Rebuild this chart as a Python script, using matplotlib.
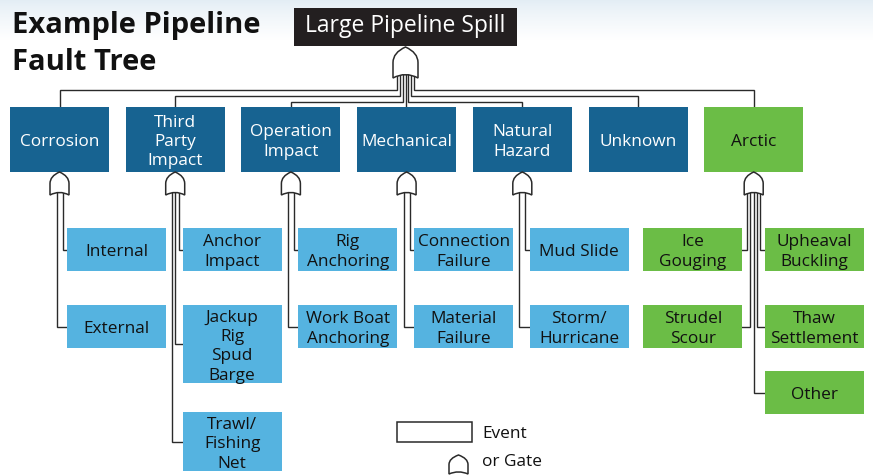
import matplotlib.pyplot as plt
import numpy as np
from matplotlib.patches import Rectangle, PathPatch
from matplotlib.path import Path

# ---- data ----
title_lines = ["Example Pipeline", "Fault Tree"]
top_event = "Large Pipeline Spill"
causes = ["Corrosion", "Third\nParty\nImpact", "Operation\nImpact", "Mechanical",
          "Natural\nHazard", "Unknown", "Arctic"]
cause_is_arctic = [False, False, False, False, False, False, True]

# sub events: (label, side) listed top to bottom on each side
corrosion_sub = [("Internal", "R"), ("External", "R")]
third_party_sub = [("Anchor\nImpact", "R"), ("Jackup\nRig\nSpud\nBarge", "R"),
                   ("Trawl/\nFishing\nNet", "R")]
operation_sub = [("Rig\nAnchoring", "R"), ("Work Boat\nAnchoring", "R")]
mechanical_sub = [("Connection\nFailure", "R"), ("Material\nFailure", "R")]
natural_sub = [("Mud Slide", "R"), ("Storm/\nHurricane", "R")]
unknown_sub = []
arctic_sub = [("Ice\nGouging", "L"), ("Strudel\nScour", "L"),
              ("Upheaval\nBuckling", "R"), ("Thaw\nSettlement", "R"), ("Other", "R")]
sub_events = [corrosion_sub, third_party_sub, operation_sub, mechanical_sub,
              natural_sub, unknown_sub, arctic_sub]
legend_labels = ["Event", "or Gate"]

# ---- style ----
DARK = "#176391"
LIGHT = "#55B3E0"
GREEN = "#6BBD46"
BLACK_BOX = "#231F20"
LINE = "#2a2a2a"
FONT = "Open Sans"
FS = 12.4
LSP = 19.3  # px between text lines

fig = plt.figure(figsize=(8.73, 4.75), dpi=100)
ax = fig.add_axes([0, 0, 1, 1])
ax.set_xlim(0, 873)
ax.set_ylim(475, 0)
ax.axis("off")

# faint gradient along the top edge
grad = np.linspace(0, 1, 60).reshape(-1, 1)
top_c = np.array([0.89, 0.93, 0.96])
img = top_c + (1 - top_c) * grad[..., None] ** 0.8
img = np.repeat(img, 2, axis=1)
ax.imshow(img, extent=[0, 873, 40, 0], aspect="auto", zorder=0)


def label(x, yc, text, color, size=FS):
    lines = text.split("\n")
    n = len(lines)
    for i, ln in enumerate(lines):
        y = yc + (i - (n - 1) / 2) * LSP
        ax.text(x, y + 6.6, ln, ha="center", va="baseline", fontsize=size,
                color=color, family=FONT, zorder=6)


def box(x0, y0, w, h, fc, text, tc):
    ax.add_patch(Rectangle((x0, y0), w, h, facecolor=fc, edgecolor="none", zorder=4))
    label(x0 + w / 2, y0 + h / 2, text, tc)


def or_gate(cx, top, w, h, z=5):
    b = top + h
    s = top + 0.5 * h
    l, r = cx - w / 2, cx + w / 2
    verts = [(l, b), (l, s), (l, top + 0.18 * h), (cx, top),
             (r, top + 0.18 * h), (r, s), (r, b), (cx, b - 0.22 * h), (l, b), (l, b)]
    codes = [Path.MOVETO, Path.LINETO, Path.CURVE3, Path.CURVE3,
             Path.CURVE3, Path.CURVE3, Path.LINETO, Path.CURVE3, Path.CURVE3,
             Path.CLOSEPOLY]
    ax.add_patch(PathPatch(Path(verts, codes), facecolor="white",
                           edgecolor=LINE, lw=1.1, zorder=z))


def wire(xs, ys):
    ax.plot(xs, ys, color=LINE, lw=1.0, zorder=2, solid_joinstyle="miter")


# ---- title ----
for txt, yb in zip(title_lines, [33, 70]):
    ax.text(12, yb, txt, fontsize=21, fontweight="bold", family=FONT,
            color="#111111", va="baseline", ha="left", zorder=6)

# ---- top event ----
ax.add_patch(Rectangle((294, 8), 223, 38, facecolor=BLACK_BOX, edgecolor="none", zorder=4))
ax.text(405.5, 32.5, top_event, ha="center", va="baseline", fontsize=16.5,
        color="white", family=FONT, zorder=6)
gx, g_top, g_h, g_w = 405.5, 47, 31, 25
or_gate(gx, g_top, g_w, g_h)

# ---- causes ----
pitch, bw, btop, bh = 115.7, 99, 107, 65
centers = [10 + i * pitch + bw / 2 for i in range(len(causes))]
mid = len(causes) // 2
levels = [89.5, 95.7, 101.7]  # outermost branch runs highest
for i, (cx, name) in enumerate(zip(centers, causes)):
    k = i - mid
    lx = gx + k * 2.9
    if k == 0:
        wire([lx, lx], [g_top + g_h - 3, btop])
    else:
        yl = levels[3 - abs(k)]
        wire([lx, lx, cx, cx], [g_top + g_h - 3, yl, yl, btop])
    fc = GREEN if cause_is_arctic[i] else DARK
    tc = "#111111" if cause_is_arctic[i] else "white"
    box(cx - bw / 2, btop, bw, bh, fc, name, tc)

# ---- sub events ----
sg_h, sg_w = 23, 19
sub_top0 = 228
for i, subs in enumerate(sub_events):
    if not subs:
        continue
    cx = centers[i]
    g_top2 = btop + bh
    or_gate(cx, g_top2, sg_w, sg_h)
    left = [s for s in subs if s[1] == "L"]
    right = [s for s in subs if s[1] == "R"]
    n = len(subs)
    sp = 6.0 if n == 2 else 3.3
    offs = [(j - (n - 1) / 2) * sp for j in range(n)]
    # outermost line feeds the top child on each side
    order = left + right[::-1]
    line_x = {s[0]: cx + o for s, o in zip(order, offs)}
    dx_r = 61 if left else 57
    fc = GREEN if cause_is_arctic[i] else LIGHT
    for side, group in (("L", left), ("R", right)):
        y = sub_top0
        for j, (txt, _) in enumerate(group):
            nl = len(txt.split("\n"))
            h = max(43, LSP * nl + 1)
            x0 = cx - bw / 2 + dx_r if side == "R" else cx - bw / 2 - 61
            box(x0, y, bw, h, fc, txt, "#111111")
            yc = y + h / 2
            lx = line_x[txt]
            edge = x0 if side == "R" else x0 + bw
            wire([lx, lx, edge], [g_top2 + sg_h - 2, yc, yc])
            if j == 0:
                gap = 34
            else:
                gap = 23 if cause_is_arctic[i] else 29
            y = y + h + gap

# ---- legend ----
ax.add_patch(Rectangle((397, 422), 75, 20, facecolor="white", edgecolor=LINE,
                       lw=1.1, zorder=4))
ax.text(482, 438.5, legend_labels[0], fontsize=FS, family=FONT, color="#111111",
        va="baseline", ha="left")
or_gate(458.5, 455, 19, 19)
ax.text(482, 466, legend_labels[1], fontsize=FS, family=FONT, color="#111111",
        va="baseline", ha="left")

fig.savefig("out.png", dpi=100)
